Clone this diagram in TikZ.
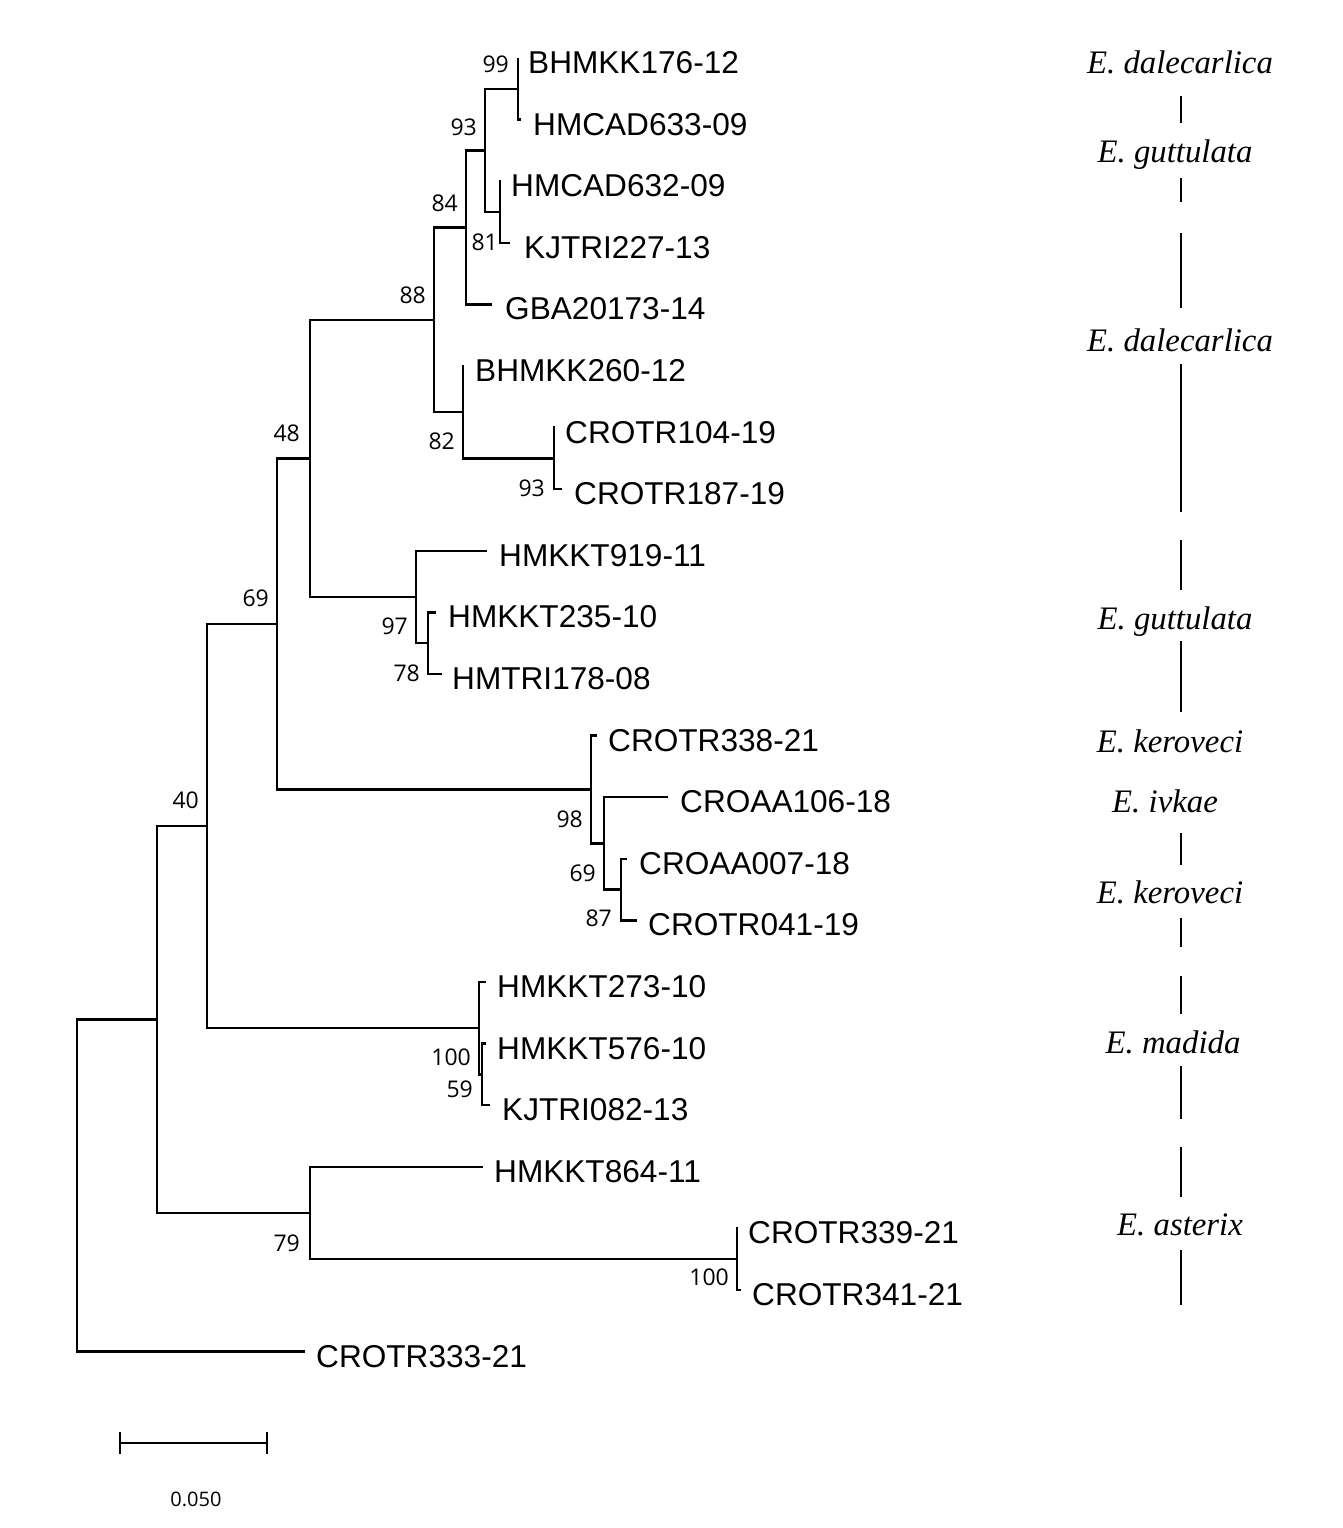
\documentclass[tikz,border=0pt]{standalone}
\usepackage{fontspec}
\setmainfont{Liberation Sans}
\newfontfamily\bootfont{Open Sans}
\newfontfamily\spfont{Liberation Serif}
\begin{document}
\begin{tikzpicture}[x=1pt,y=-1pt,
  leaf/.style={anchor=west,inner sep=0pt,font=\fontsize{31.6}{38}\selectfont},
  boot/.style={anchor=east,inner sep=0pt,font=\bootfont\fontsize{23}{27}\selectfont},
  species/.style={anchor=base,inner sep=0pt,font=\spfont\itshape\fontsize{32.8}{38}\selectfont},
  branch/.style={line width=2.3pt,line join=miter},
  spline/.style={line width=2.8pt},
  scalebar/.style={line width=2.3pt}]
\useasboundingbox (0,0) rectangle (1343,1528);

% ---- tips ----
\coordinate (t0) at (518,58.0);
\coordinate (t1) at (521,119.6);
\coordinate (t2) at (501,181.2);
\coordinate (t3) at (510,242.8);
\coordinate (t4) at (492,304.4);
\coordinate (t5) at (464,366.0);
\coordinate (t6) at (555,427.6);
\coordinate (t7) at (562,489.2);
\coordinate (t8) at (487,550.8);
\coordinate (t9) at (436,612.4);
\coordinate (t10) at (442,674.0);
\coordinate (t11) at (597,735.6);
\coordinate (t12) at (668,797.2);
\coordinate (t13) at (627,858.8);
\coordinate (t14) at (637,920.4);
\coordinate (t15) at (486,982.0);
\coordinate (t16) at (486,1043.6);
\coordinate (t17) at (490,1105.2);
\coordinate (t18) at (483,1166.8);
\coordinate (t19) at (738,1228.4);
\coordinate (t20) at (741,1290.0);
\coordinate (t21) at (305,1351.6);

% ---- internal nodes ----
\coordinate (n99) at (518,88.8);
\coordinate (n81) at (500,212.0);
\coordinate (n93a) at (485,150.4);
\coordinate (n84) at (466,227.4);
\coordinate (n93b) at (554,458.4);
\coordinate (n82) at (463,412.2);
\coordinate (n88) at (434,319.8);
\coordinate (n78) at (428,643.2);
\coordinate (n97) at (416,597.0);
\coordinate (n48) at (310,458.4);
\coordinate (n87) at (621,889.6);
\coordinate (n69b) at (604,843.4);
\coordinate (n98) at (591,789.5);
\coordinate (n69a) at (277,624.0);
\coordinate (n59) at (482,1074.4);
\coordinate (n100a) at (479,1028.2);
\coordinate (n40) at (207,826.1);
\coordinate (n100b) at (737,1259.2);
\coordinate (n79) at (310,1213.0);
\coordinate (nin) at (157,1019.6);
\coordinate (root) at (77,1185.6);

% ---- branches ----
\draw[branch] (n99) |- (t0);  \draw[branch] (n99) |- (t1);
\draw[branch] (n81) |- (t2);  \draw[branch] (n81) |- (t3);
\draw[branch] (n93a) |- (n99); \draw[branch] (n93a) |- (n81);
\draw[branch] (n84) |- (n93a); \draw[branch] (n84) |- (t4);
\draw[branch] (n93b) |- (t6); \draw[branch] (n93b) |- (t7);
\draw[branch] (n82) |- (t5);  \draw[branch] (n82) |- (n93b);
\draw[branch] (n88) |- (n84); \draw[branch] (n88) |- (n82);
\draw[branch] (n78) |- (t9);  \draw[branch] (n78) |- (t10);
\draw[branch] (n97) |- (t8);  \draw[branch] (n97) |- (n78);
\draw[branch] (n48) |- (n88); \draw[branch] (n48) |- (n97);
\draw[branch] (n87) |- (t13); \draw[branch] (n87) |- (t14);
\draw[branch] (n69b) |- (t12); \draw[branch] (n69b) |- (n87);
\draw[branch] (n98) |- (t11); \draw[branch] (n98) |- (n69b);
\draw[branch] (n69a) |- (n48); \draw[branch] (n69a) |- (n98);
\draw[branch] (n59) |- (t16); \draw[branch] (n59) |- (t17);
\draw[branch] (n100a) |- (t15); \draw[branch] (n100a) |- (n59);
\draw[branch] (n40) |- (n69a); \draw[branch] (n40) |- (n100a);
\draw[branch] (n100b) |- (t19); \draw[branch] (n100b) |- (t20);
\draw[branch] (n79) |- (t18); \draw[branch] (n79) |- (n100b);
\draw[branch] (nin) |- (n40); \draw[branch] (nin) |- (n79);
\draw[branch] (root) |- (nin); \draw[branch] (root) |- (t21);

% ---- leaf labels ----
\node[leaf] (l0) at (528,63) {BHMKK176-12};
\node[leaf] (l1) at (533,125) {HMCAD633-09};
\node[leaf] (l2) at (511,186) {HMCAD632-09};
\node[leaf] (l3) at (524,248) {KJTRI227-13};
\node[leaf] (l4) at (505,309) {GBA20173-14};
\node[leaf] (l5) at (475,371) {BHMKK260-12};
\node[leaf] (l6) at (565,433) {CROTR104-19};
\node[leaf] (l7) at (574,494) {CROTR187-19};
\node[leaf] (l8) at (499,556) {HMKKT919-11};
\node[leaf] (l9) at (448,617) {HMKKT235-10};
\node[leaf] (l10) at (452,679) {HMTRI178-08};
\node[leaf] (l11) at (608,741) {CROTR338-21};
\node[leaf] (l12) at (680,802) {CROAA106-18};
\node[leaf] (l13) at (639,864) {CROAA007-18};
\node[leaf] (l14) at (648,925) {CROTR041-19};
\node[leaf] (l15) at (497,987) {HMKKT273-10};
\node[leaf] (l16) at (497,1049) {HMKKT576-10};
\node[leaf] (l17) at (502,1110) {KJTRI082-13};
\node[leaf] (l18) at (494,1172) {HMKKT864-11};
\node[leaf] (l19) at (748,1233) {CROTR339-21};
\node[leaf] (l20) at (752,1295) {CROTR341-21};
\node[leaf] (l21) at (316,1357) {CROTR333-21};

% ---- bootstrap values ----
\node[boot] (b99) at (509,64) {99};
\node[boot] (b93a) at (477,127) {93};
\node[boot] (b84) at (458,203) {84};
\node[boot] (b81) at (498,242) {81};
\node[boot] (b88) at (426,295) {88};
\node[boot] (b82) at (455,441) {82};
\node[boot] (b93b) at (545,488) {93};
\node[boot] (b48) at (300,433) {48};
\node[boot] (b97) at (408,626) {97};
\node[boot] (b78) at (420,673) {78};
\node[boot] (b69a) at (269,598) {69};
\node[boot] (b98) at (583,819) {98};
\node[boot] (b69b) at (596,873) {69};
\node[boot] (b87) at (612,918) {87};
\node[boot] (b40) at (199,800) {40};
\node[boot] (b100a) at (471,1057) {100};
\node[boot] (b59) at (473,1089) {59};
\node[boot] (b79) at (300,1243) {79};
\node[boot] (b100b) at (729,1277) {100};

% ---- species names ----
\node[species] (s1) at (1180,74) {E. dalecarlica};
\node[species] (s2) at (1175,162) {E. guttulata};
\node[species] (s3) at (1180,351) {E. dalecarlica};
\node[species] (s4) at (1175,629) {E. guttulata};
\node[species] (s5) at (1170,752) {E. keroveci};
\node[species] (s6) at (1165,812) {E. ivkae};
\node[species] (s7) at (1170,903) {E. keroveci};
\node[species] (s8) at (1173,1053) {E. madida};
\node[species] (s9) at (1180,1235) {E. asterix};

% ---- species bar segments ----
\foreach \a/\b in {96/123,178/202,233/308,364/512,540/590,641/712,833/865,918/947,976/1014,1066/1119,1147/1197,1250/1305}
  \draw[spline] (1181,\a) -- (1181,\b);

% ---- scale bar ----
\coordinate (sa) at (120,1443);
\coordinate (sb) at (267,1443);
\draw[scalebar] (sa) -- (sb);
\draw[scalebar] ([yshift=-11pt]sa) -- ([yshift=11pt]sa);
\draw[scalebar] ([yshift=-11pt]sb) -- ([yshift=11pt]sb);
\node[inner sep=0pt,font=\bootfont\fontsize{20}{24}\selectfont] (scl) at (196,1499) {0.050};
\end{tikzpicture}
\end{document}
